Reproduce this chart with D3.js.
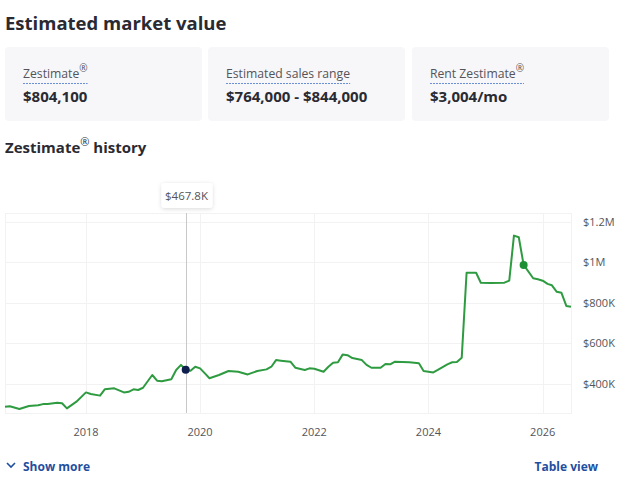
<!DOCTYPE html>
<html>
<head>
<meta charset="utf-8">
<script src="https://cdn.jsdelivr.net/npm/d3@7"></script>
<style>
  body { margin: 0; background: #fff; }
  svg { display: block; font-family: "Open Sans", sans-serif; }
</style>
</head>
<body>
<script>
var months = ["2016-08","2016-09","2016-11",
  "2017-01","2017-03","2017-04","2017-05","2017-07","2017-08","2017-09","2017-11",
  "2018-01","2018-02","2018-04","2018-05","2018-07","2018-09","2018-10","2018-11","2018-12",
  "2019-01","2019-03","2019-04","2019-05","2019-07","2019-08","2019-09","2019-10","2019-11","2019-12",
  "2020-01","2020-02","2020-03","2020-05","2020-07","2020-09","2020-11",
  "2021-01","2021-03","2021-04","2021-05","2021-06","2021-08","2021-09","2021-11","2021-12",
  "2022-01","2022-03","2022-04","2022-05","2022-06","2022-07","2022-08","2022-09","2022-11","2022-12",
  "2023-01","2023-03","2023-04","2023-05","2023-06","2023-09","2023-11","2023-12",
  "2024-02","2024-03","2024-05","2024-06","2024-07","2024-08","2024-09","2024-11","2024-12",
  "2025-02","2025-05","2025-06","2025-07","2025-08","2025-09","2025-11","2025-12",
  "2026-01","2026-02","2026-03","2026-04","2026-05","2026-06","2026-07"];

// zestimate in thousands of dollars
var values = [285,287,274,
  289,292,298,298,305,302,277,310,
  356,348,340,371,376,356,359,371,368,
  379,442,414,411,421,467,492,467.8,463,483,
  475,450,426,442,462,458,445,
  462,470,483,516,513,508,478,467,475,
  473,458,483,503,505,543,540,526,516,492,
  478,478,497,495,508,505,500,462,
  455,467,495,505,506,528,948,948,899,
  897,899,909,1132,1124,987,921,916,
  909,893,886,854,849,784,780];

var yTicks = [400, 600, 800, 1000, 1200];
var yTickLabels = ["$400K", "$600K", "$800K", "$1M", "$1.2M"];
var xTickYears = [2018, 2020, 2022, 2024, 2026];

var cards = [
  { label: "Zestimate", reg: true, value: "$804,100" },
  { label: "Estimated sales range", reg: false, value: "$764,000 - $844,000" },
  { label: "Rent Zestimate", reg: true, value: "$3,004/mo" }
];

var hoverMonth = "2019-10";
var currentMonth = "2025-09";

var w = 631, h = 500;
var parse = d3.timeParse("%Y-%m");
var data = months.map(function(m, i){
  return { date: parse(m), value: values[i] };
});

var svg = d3.select("body").append("svg")
  .attr("width", w)
  .attr("height", h);

var dark = "#2a2a33", grey = "#54545a", link = "#1f4f9f";

// header
svg.append("text")
  .attr("x", 5).attr("y", 30)
  .attr("font-size", 18.5).attr("font-weight", 700)
  .attr("fill", dark)
  .text("Estimated market value");

var cardX = [5, 208, 412], cardW = 197;
var cg = svg.selectAll(".card")
  .data(cards)
  .enter().append("g")
  .attr("class", "card")
  .attr("transform", function(d, i){ return "translate(" + cardX[i] + ",47)"; });

cg.append("rect")
  .attr("width", cardW).attr("height", 74)
  .attr("rx", 4)
  .attr("fill", "#f7f7f9");

var lbl = cg.append("text")
  .attr("x", 18).attr("y", 31)
  .attr("font-size", 12.2)
  .attr("fill", grey);
lbl.append("tspan").text(function(d){ return d.label; });
lbl.filter(function(d){ return d.reg; })
  .append("tspan")
  .attr("font-size", 10)
  .attr("dy", -6)
  .text("®");

cg.each(function(){
  var g = d3.select(this);
  var bb = g.select("text").node().getBBox();
  g.append("line")
    .attr("x1", 18).attr("x2", 18 + bb.width)
    .attr("y1", 36.5).attr("y2", 36.5)
    .attr("stroke", "#6b8fd6")
    .attr("stroke-width", 1)
    .attr("stroke-dasharray", "2,1");
});

cg.append("text")
  .attr("x", 18).attr("y", 55)
  .attr("font-size", 15).attr("font-weight", 700)
  .attr("fill", dark)
  .text(function(d){ return d.value; });

var sub = svg.append("text")
  .attr("x", 5).attr("y", 153)
  .attr("font-size", 15).attr("font-weight", 700)
  .attr("fill", dark);
sub.append("tspan").text("Zestimate");
sub.append("tspan").attr("font-size", 11).attr("font-weight", 400).attr("dy", -7).text("®");
sub.append("tspan").attr("dy", 7).text(" history");

// chart
var pLeft = 5, pRight = 571, pTop = 213, pBottom = 413;

var x = d3.scaleTime()
  .domain(d3.extent(data, function(d){ return d.date; }))
  .range([pLeft, pRight]);

var y = d3.scaleLinear()
  .domain([254, 1244])
  .range([pBottom, pTop]);

var gridColor = "#f2f2f2";
var grid = svg.append("g").attr("class", "grid");
grid.append("rect")
  .attr("x", pLeft + 0.5).attr("y", pTop + 0.5)
  .attr("width", pRight - pLeft).attr("height", pBottom - pTop)
  .attr("fill", "none")
  .attr("stroke", gridColor);

grid.selectAll(".hg")
  .data(yTicks)
  .enter().append("line")
  .attr("x1", pLeft).attr("x2", pRight)
  .attr("y1", function(d){ return Math.round(y(d)) + 0.5; })
  .attr("y2", function(d){ return Math.round(y(d)) + 0.5; })
  .attr("stroke", gridColor);

grid.selectAll(".vg")
  .data(xTickYears)
  .enter().append("line")
  .attr("x1", function(d){ return Math.round(x(new Date(d, 0, 1))) + 0.5; })
  .attr("x2", function(d){ return Math.round(x(new Date(d, 0, 1))) + 0.5; })
  .attr("y1", pTop).attr("y2", pBottom)
  .attr("stroke", gridColor);

svg.selectAll(".ylab")
  .data(yTicks)
  .enter().append("text")
  .attr("x", 583)
  .attr("y", function(d){ return y(d) + 4; })
  .attr("font-size", 11)
  .attr("fill", grey)
  .text(function(d, i){ return yTickLabels[i]; });

svg.selectAll(".xlab")
  .data(xTickYears)
  .enter().append("text")
  .attr("x", function(d){ return x(new Date(d, 0, 1)); })
  .attr("y", 436)
  .attr("text-anchor", "middle")
  .attr("font-size", 11)
  .attr("fill", grey)
  .text(function(d){ return d; });

// hover marker
var hov = data[months.indexOf(hoverMonth)];
var hx = Math.round(x(hov.date)) + 0.5;
svg.append("line")
  .attr("x1", hx).attr("x2", hx)
  .attr("y1", pTop).attr("y2", pBottom)
  .attr("stroke", "#c8c8c8");

var line = d3.line()
  .x(function(d){ return x(d.date); })
  .y(function(d){ return y(d.value); });

svg.append("path")
  .datum(data)
  .attr("d", line)
  .attr("fill", "none")
  .attr("stroke", "#2e9b41")
  .attr("stroke-width", 2)
  .attr("stroke-linejoin", "round");

var cur = data[months.indexOf(currentMonth)];
svg.append("circle")
  .attr("cx", x(cur.date)).attr("cy", y(cur.value))
  .attr("r", 4)
  .attr("fill", "#1f8f36");

svg.append("circle")
  .attr("cx", x(hov.date)).attr("cy", y(hov.value))
  .attr("r", 4)
  .attr("fill", "#0e1f4f");

// tooltip
var defs = svg.append("defs");
var f = defs.append("filter").attr("id", "sh")
  .attr("x", "-30%").attr("y", "-30%").attr("width", "160%").attr("height", "160%");
f.append("feDropShadow")
  .attr("dx", 0).attr("dy", 1).attr("stdDeviation", 2)
  .attr("flood-color", "#000").attr("flood-opacity", 0.15);

svg.append("rect")
  .attr("x", hx - 25).attr("y", 183)
  .attr("width", 51).attr("height", 25)
  .attr("rx", 3)
  .attr("fill", "#fff")
  .attr("filter", "url(#sh)");
svg.append("text")
  .attr("x", hx).attr("y", 200)
  .attr("text-anchor", "middle")
  .attr("font-size", 11.5)
  .attr("fill", grey)
  .text("$" + d3.format(".1f")(hov.value) + "K");

// footer links
svg.append("path")
  .attr("d", "M7,463 L11,467 L15,463")
  .attr("fill", "none")
  .attr("stroke", link)
  .attr("stroke-width", 1.6);
svg.append("text")
  .attr("x", 23).attr("y", 471)
  .attr("font-size", 12).attr("font-weight", 700)
  .attr("fill", link)
  .text("Show more");
svg.append("text")
  .attr("x", 598).attr("y", 471)
  .attr("text-anchor", "end")
  .attr("font-size", 12).attr("font-weight", 700)
  .attr("fill", link)
  .text("Table view");
</script>
</body>
</html>
